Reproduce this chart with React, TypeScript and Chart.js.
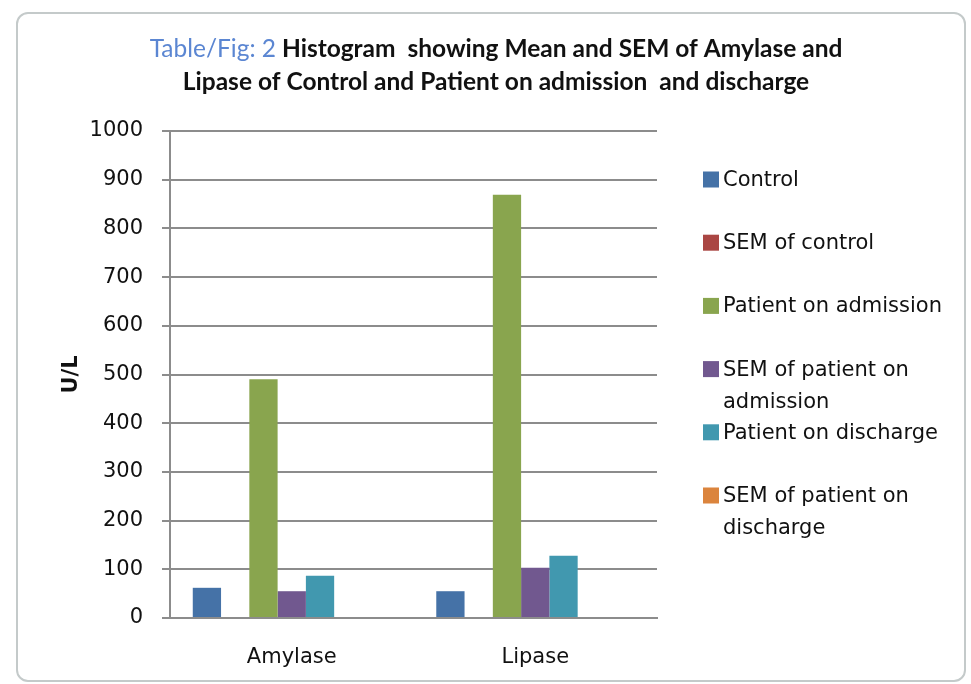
import React, { useEffect, useRef } from "react";
import { Chart, registerables } from "chart.js";

Chart.register(...registerables);

const categories = ["Amylase", "Lipase"];
const seriesLabels = [
  "Control",
  "SEM of control",
  "Patient on admission",
  "SEM of patient on admission",
  "Patient on discharge",
  "SEM of patient on discharge",
];
const controlValues = [62, 55];
const semControlValues = [0, 0];
const admissionValues = [490, 869];
const semAdmissionValues = [55, 103];
const dischargeValues = [87, 128];
const semDischargeValues = [0, 0];
const emptySlotValues = [null, null];
const seriesColors = ["#4572A7", "#AA4643", "#89A54E", "#71588F", "#4198AF", "#DB843D"];
const titleLead = "Table/Fig: 2";
const titleLine1 = " Histogram  showing Mean and SEM of Amylase and";
const titleLine2 = "Lipase of Control and Patient on admission  and discharge";
const yAxisTitle = "U/L";

const FONT = "'DejaVu Sans', Verdana, sans-serif";
const TITLE_FONT = "Lato, 'Open Sans', sans-serif";
const TITLE_SIZE = 24.5;

const titlePlugin = {
  id: "mixedTitle",
  afterDraw(chart: any) {
    const ctx = chart.ctx;
    ctx.save();
    ctx.textBaseline = "middle";
    const cx = 496;
    ctx.font = `400 ${TITLE_SIZE}px ${TITLE_FONT}`;
    const wLead = ctx.measureText(titleLead).width;
    ctx.font = `700 ${TITLE_SIZE}px ${TITLE_FONT}`;
    const w1 = ctx.measureText(titleLine1).width;
    const x = cx - (wLead + w1) / 2;
    ctx.textAlign = "left";
    ctx.font = `400 ${TITLE_SIZE}px ${TITLE_FONT}`;
    ctx.fillStyle = "#5B86D2";
    ctx.fillText(titleLead, x, 49);
    ctx.font = `700 ${TITLE_SIZE}px ${TITLE_FONT}`;
    ctx.fillStyle = "#111";
    ctx.fillText(titleLine1, x + wLead, 49);
    ctx.textAlign = "center";
    ctx.fillText(titleLine2, cx, 82);
    ctx.restore();
  },
};

const legendPlugin = {
  id: "sideLegend",
  afterDraw(chart: any) {
    const ctx = chart.ctx;
    ctx.save();
    ctx.font = `400 21px ${FONT}`;
    ctx.textBaseline = "middle";
    ctx.textAlign = "left";
    const startY = 179.5;
    const step = 63.2;
    const lineH = 32;
    chart.data.datasets
      .filter((ds: any) => ds.label)
      .forEach((ds: any, i: number) => {
        const y = startY + i * step;
        ctx.fillStyle = ds.backgroundColor;
        ctx.fillRect(703, y - 8, 16, 16);
        const words = String(ds.label).split(" ");
        const lines: string[] = [];
        let cur = "";
        words.forEach((w) => {
          const t = cur ? cur + " " + w : w;
          if (ctx.measureText(t).width > 232 && cur) {
            lines.push(cur);
            cur = w;
          } else cur = t;
        });
        if (cur) lines.push(cur);
        ctx.fillStyle = "#111";
        lines.forEach((l, j) => ctx.fillText(l, 723, y + 1 + j * lineH));
      });
    ctx.restore();
  },
};

export default function App() {
  const ref = useRef<HTMLCanvasElement>(null);
  useEffect(() => {
    if (!ref.current) return;
    const valueSets = [
      controlValues,
      semControlValues,
      admissionValues,
      semAdmissionValues,
      dischargeValues,
      semDischargeValues,
    ];
    const datasets: any[] = seriesLabels.map((label, i) => ({
      label,
      data: valueSets[i],
      backgroundColor: seriesColors[i],
      borderWidth: 0,
      categoryPercentage: 0.813,
      barPercentage: 1.0,
    }));
    datasets.push({
      label: "",
      data: emptySlotValues,
      backgroundColor: "transparent",
      borderWidth: 0,
      categoryPercentage: 0.813,
      barPercentage: 1.0,
    });
    const chart = new Chart(ref.current, {
      type: "bar",
      data: { labels: categories, datasets },
      options: {
        animation: false,
        responsive: false,
        maintainAspectRatio: false,
        layout: { padding: { left: 0, top: 131, right: 314, bottom: 16 } },
        plugins: {
          legend: { display: false },
          title: { display: false },
          tooltip: { enabled: false },
        },
        scales: {
          x: {
            grid: { display: false },
            border: { display: true, color: "#8c8c8c", width: 2 },
            ticks: { color: "#111", font: { family: FONT, size: 21 }, padding: 19 },
            afterFit: (s: any) => {
              s.height = 50;
            },
          },
          y: {
            min: 0,
            max: 1000,
            ticks: {
              stepSize: 100,
              color: "#111",
              font: { family: FONT, size: 21 },
              padding: 19,
              callback: (v: any) => String(v),
            },
            grid: { color: "#8c8c8c", lineWidth: 2, tickLength: 8 },
            border: { display: true, color: "#8c8c8c", width: 2 },
            title: {
              display: true,
              text: yAxisTitle,
              color: "#111",
              font: { family: FONT, size: 21, weight: "bold" },
              padding: { top: 59, bottom: 0 },
            },
            afterFit: (s: any) => {
              s.width = 170;
            },
          },
        },
      },
      plugins: [titlePlugin, legendPlugin],
    });
    return () => chart.destroy();
  }, []);

  return (
    <div style={{ position: "absolute", left: 0, top: 0, width: 971, height: 684, background: "#fff", overflow: "hidden" }}>
      <div
        style={{
          position: "absolute",
          left: 16,
          top: 12,
          width: 950,
          height: 670,
          border: "2px solid #c4caca",
          borderRadius: 12,
          boxSizing: "border-box",
        }}
      />
      <canvas ref={ref} width={971} height={684} style={{ position: "absolute", left: 0, top: 0 }} />
    </div>
  );
}
